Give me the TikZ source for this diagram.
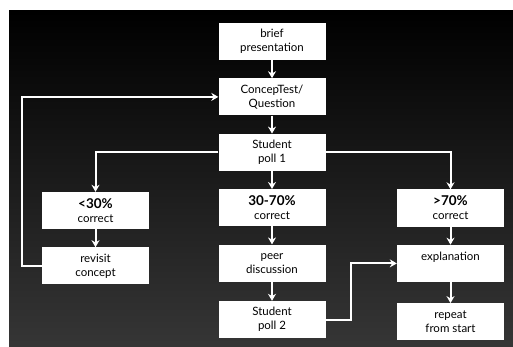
\documentclass[tikz,border=0pt]{standalone}
\usepackage{fontspec}
\setmainfont{Lato}
\usetikzlibrary{positioning,arrows.meta}
\definecolor{bgbot}{gray}{0.21}
\definecolor{bgmid}{gray}{0.05}
\tikzset{
  stagebox/.style={fill=white, text=black, minimum width=107pt, minimum height=37pt,
    inner sep=2pt, align=center, font=\fontsize{11.5}{14}\selectfont},
  flow/.style={draw=white, line width=2pt, -{Stealth[length=7pt,width=8pt]}},
}
\newcommand{\pct}[1]{{\fontsize{13.5}{14}\selectfont\bfseries #1}}

\begin{document}
\begin{tikzpicture}[x=1pt,y=-1pt]
		\useasboundingbox (0,0) rectangle (513,347);
		\shade[top color=black, middle color=bgmid, bottom color=bgbot] (9,11) rectangle (513,347);
		%
		\node[stagebox] (brief) at (272,41.5) {brief\\presentation};
		\node[stagebox, below=18pt of brief] (ctest) {ConcepTest/\\Question};
		\node[stagebox, below=18pt of ctest] (poll1) {Student\\poll 1};
		\node[stagebox, below=18pt of poll1] (mid) {\pct{30-70\%}\\correct};
		\node[stagebox, below=18pt of mid] (peer) {peer\\discussion};
		\node[stagebox, below=19pt of peer] (poll2) {Student\\poll 2};
		\node[stagebox] (low) at (95.5,210.5) {\pct{<30\%}\\correct};
		\node[stagebox, below=18pt of low] (revisit) {revisit\\concept};
		\node[stagebox] (high) at (450.5,208) {\pct{>70\%}\\correct};
		\node[stagebox, below=18pt of high, text depth=15pt] (expl) {explanation};
		\node[stagebox, below=21pt of expl] (repeat) {repeat\\from start};
		%
		\draw[flow] (brief) -- (ctest);
		\draw[flow] (ctest) -- (poll1);
		\draw[flow] (poll1) -- (mid);
		\draw[flow] (mid) -- (peer);
		\draw[flow] (peer) -- (poll2);
		\draw[flow] (poll1.west) -| (low.north);
		\draw[flow] (poll1.east) -| (high.north);
		\draw[flow] (low) -- (revisit);
		\draw[flow] (high) -- (expl);
		\draw[flow] (expl) -- (repeat);
		\draw[flow] (revisit.west) -- ++(-20,0) |- (ctest.west);
		\draw[flow] (poll2.east) -- ++(25,0) |- (expl.west);
	\end{tikzpicture}
\end{document}
